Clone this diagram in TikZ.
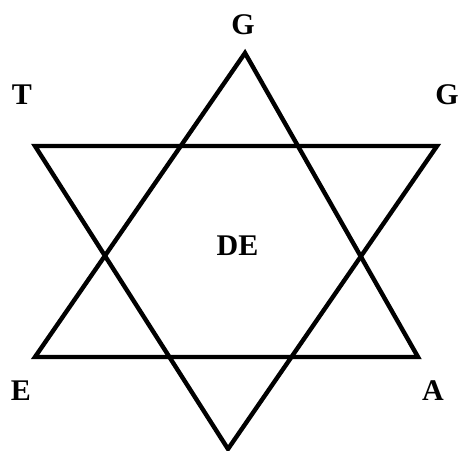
\documentclass[tikz,border=0pt]{standalone}
\usepackage{fontspec}
\setmainfont{Liberation Serif}
\usetikzlibrary{positioning}

\begin{document}
\begin{tikzpicture}[x=1pt,y=-1pt,
  lbl/.style={inner sep=0pt,font=\fontsize{30}{33}\selectfont\bfseries},
  edge/.style={line width=4.4pt,line join=miter}]
  \useasboundingbox (0,0) rectangle (458,450);
  % upward triangle
  \coordinate (up) at (245,53);
  \coordinate (ul) at (35,357);
  \coordinate (ur) at (418,357);
  % downward triangle
  \coordinate (dl) at (35,146);
  \coordinate (dr) at (437,146);
  \coordinate (dn) at (228,449);
  \draw[edge] (up)--(ur)--(ul)--cycle;
  \draw[edge] (dl)--(dr)--(dn)--cycle;
  % labels
  \node[lbl] (gtop) at (243,25) {G};
  \node[lbl] (t) at (22,95) {T};
  \node[lbl] (gright) at (447,95) {G};
  \node[lbl] (de) at (237.5,246) {DE};
  \node[lbl] (e) at (21,391) {E};
  \node[lbl] (a) at (433,391) {A};
\end{tikzpicture}
\end{document}
